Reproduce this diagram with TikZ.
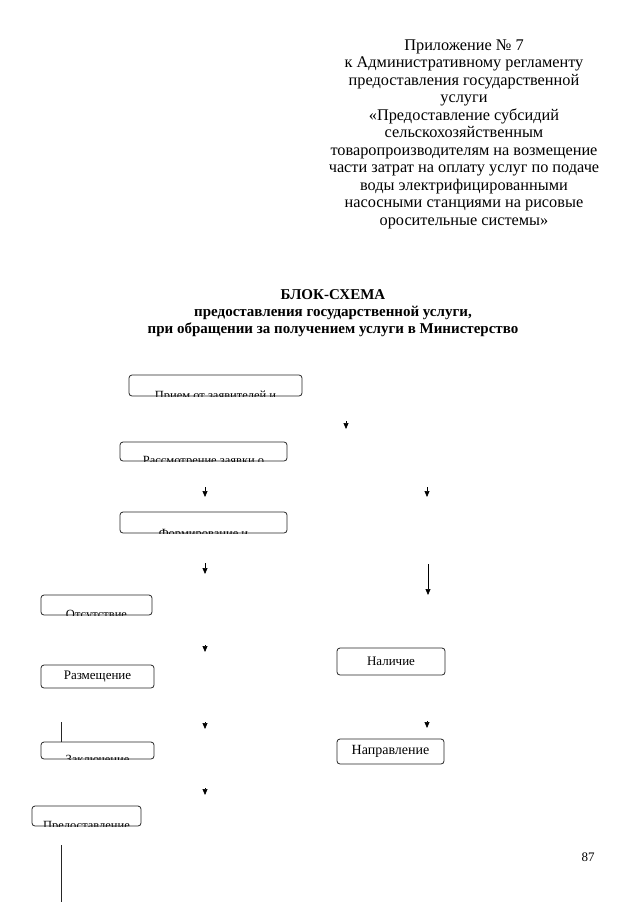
\documentclass[tikz,border=0pt]{standalone}
\usepackage{fontspec}
\setmainfont{Liberation Serif}
\usetikzlibrary{arrows.meta}
\tikzset{
  hdr/.style={align=center, inner sep=0pt, anchor=north, font=\fontsize{16.3}{17.5}\selectfont},
  ttl/.style={align=center, inner sep=0pt, anchor=north, font=\bfseries\fontsize{15}{17}\selectfont},
  box/.style={draw=black!85, line width=0.8pt, rounded corners=3pt, inner sep=0pt, font=\fontsize{13}{15}\selectfont},
  cbox/.style={box, path picture={\node[anchor=north, inner sep=0pt, font=\fontsize{12.5}{14}\selectfont] at ([yshift=#1]path picture bounding box.south) {\cliptext};}},
  arr/.style={line width=0.7pt, -{Triangle[length=6pt,width=5pt]}},
  ln/.style={line width=0.8pt, draw=black!85},
}
\newcommand{\cliptext}{}
\begin{document}
\begin{tikzpicture}[x=1pt,y=-1pt]
\useasboundingbox (0,0) rectangle (640,905);
% header
\node[hdr] (hdr) at (464,39.5) {Приложение № 7\\к Административному регламенту\\предоставления государственной\\услуги\\«Предоставление субсидий\\сельскохозяйственным\\товаропроизводителям на возмещение\\части затрат на оплату услуг по подаче\\воды электрифицированными\\насосными станциями на рисовые\\оросительные системы»};
% title
\node[ttl] (ttl) at (333,289) {БЛОК-СХЕМА\\предоставления государственной услуги,\\при обращении за получением услуги в Министерство};
% boxes
\renewcommand{\cliptext}{Прием от заявителей и}
\node[cbox=10pt, minimum width=173pt, minimum height=21pt] (b1) at (215.5,385.5) {};
\renewcommand{\cliptext}{Рассмотрение заявки о}
\node[cbox=9pt, minimum width=167pt, minimum height=19pt] (b2) at (203.5,451.5) {};
\renewcommand{\cliptext}{Формирование и}
\node[cbox=9pt, minimum width=167pt, minimum height=21pt] (b3) at (203.5,522.5) {};
\renewcommand{\cliptext}{Отсутствие}
\node[cbox=10pt, minimum width=111pt, minimum height=20pt] (b4) at (96.5,605) {};
\node[box, minimum width=113pt, minimum height=23pt] (b5) at (97.5,676.5) {Размещение};
\node[box, minimum width=108pt, minimum height=27pt] (b6) at (391,661.5) {Наличие};
\renewcommand{\cliptext}{Заключение}
\node[cbox=8pt, minimum width=113pt, minimum height=17pt] (b7) at (97.5,750.5) {};
\node[box, minimum width=107pt, minimum height=25pt, font=\fontsize{14}{16}\selectfont] (b8) at (390.5,751.5) {Направление};
\renewcommand{\cliptext}{Предоставление}
\node[cbox=10pt, minimum width=109pt, minimum height=20pt] (b9) at (86.5,816) {};
% arrows
\coordinate (a1s) at (346,421); \coordinate (a1e) at (346,429);
\draw[arr] (a1s) -- (a1e);
\coordinate (a2s) at (205,487); \coordinate (a2e) at (205,497);
\draw[arr] (a2s) -- (a2e);
\coordinate (a3s) at (427,487); \coordinate (a3e) at (427,497);
\draw[arr] (a3s) -- (a3e);
\coordinate (a4s) at (205,563); \coordinate (a4e) at (205,574);
\draw[arr] (a4s) -- (a4e);
\coordinate (a5s) at (428,564); \coordinate (a5e) at (428,595);
\draw[arr] (a5s) -- (a5e);
\coordinate (a6s) at (205,645); \coordinate (a6e) at (205,652);
\draw[arr] (a6s) -- (a6e);
\coordinate (a7s) at (205,722); \coordinate (a7e) at (205,729);
\draw[arr] (a7s) -- (a7e);
\coordinate (a8s) at (427,721); \coordinate (a8e) at (427,728);
\draw[arr] (a8s) -- (a8e);
\coordinate (a9s) at (205,788); \coordinate (a9e) at (205,795);
\draw[arr] (a9s) -- (a9e);
% lines
\coordinate (l1s) at (61,722);
\draw[ln] (l1s) -- (l1s |- b7.north);
\coordinate (l2s) at (61,845); \coordinate (l2e) at (61,902);
\draw[ln] (l2s) -- (l2e);
% page number
\node[inner sep=0pt, font=\fontsize{13}{15}\selectfont] (pg) at (588,857) {87};
\end{tikzpicture}
\end{document}
